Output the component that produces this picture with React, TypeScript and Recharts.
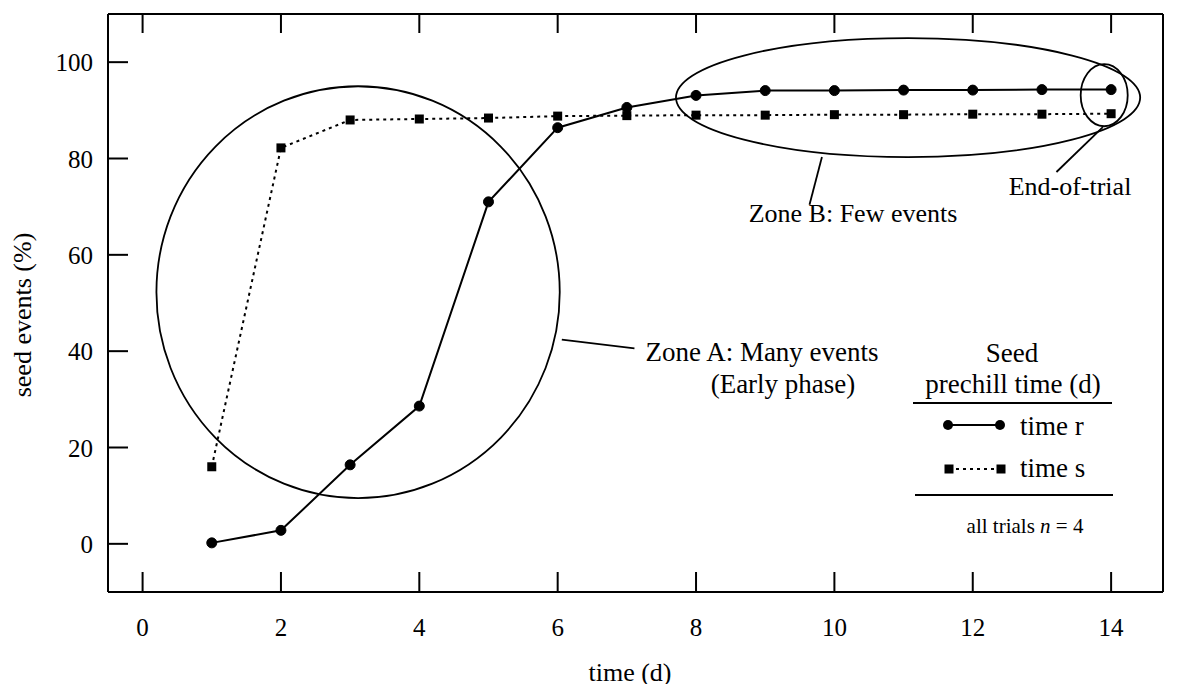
import { Line, LineChart, ReferenceArea, ReferenceLine, XAxis, YAxis } from "recharts";

const days = [1, 2, 3, 4, 5, 6, 7, 8, 9, 10, 11, 12, 13, 14];
const timeR = [0.2, 2.8, 16.4, 28.6, 71, 86.4, 90.6, 93.1, 94.1, 94.1, 94.2, 94.2, 94.3, 94.3];
const timeS = [16, 82.2, 88, 88.2, 88.4, 88.8, 88.9, 89, 89, 89.1, 89.1, 89.2, 89.2, 89.3];
const xTicks = [0, 2, 4, 6, 8, 10, 12, 14];
const yTicks = [0, 20, 40, 60, 80, 100];

// annotation zones, in data units
const zoneA = { x1: 0.2, x2: 6.03, y1: 9.5, y2: 95 };
const zoneB = { x1: 7.71, x2: 14.42, y1: 80.3, y2: 105 };
const endZone = { x1: 13.56, x2: 14.24, y1: 86.7, y2: 99.6 };

const FONT = "'Liberation Serif', 'Times New Roman', serif";
const INK = "#000";

const data = days.map((d, i) => ({ day: d, r: timeR[i], s: timeS[i] }));

const Ellipse = (props: any) => {
  const { x, y, width, height } = props;
  return (
    <ellipse
      cx={x + width / 2}
      cy={y + height / 2}
      rx={width / 2}
      ry={height / 2}
      fill="none"
      stroke={INK}
      strokeWidth={1.8}
    />
  );
};

const SquareDot = (props: any) => {
  const { cx, cy, index } = props;
  return <rect key={`sq-${index}`} x={cx - 4.5} y={cy - 4.5} width={9} height={9} fill={INK} />;
};

const BottomTick = ({ x, y, payload }: any) => (
  <g>
    <line x1={x} x2={x} y1={y} y2={y - 20} stroke={INK} strokeWidth={2} />
    <text x={x} y={y + 44} textAnchor="middle" fontSize={25} fontFamily={FONT} fill={INK}>
      {payload.value}
    </text>
  </g>
);

const TopTick = ({ x, y }: any) => <line x1={x} x2={x} y1={y} y2={y + 19} stroke={INK} strokeWidth={2} />;

const LeftTick = ({ x, y, payload }: any) => (
  <g>
    <line x1={x} x2={x + 20} y1={y} y2={y} stroke={INK} strokeWidth={2} />
    <text x={x - 15} y={y + 9} textAnchor="end" fontSize={25} fontFamily={FONT} fill={INK}>
      {payload.value}
    </text>
  </g>
);

const RightTick = ({ x, y }: any) => <line x1={x} x2={x - 20} y1={y} y2={y} stroke={INK} strokeWidth={2} />;

const txt = { fontFamily: FONT, fill: INK } as const;
const axisLine = { stroke: INK, strokeWidth: 2 };

export default function App() {
  return (
    <div style={{ margin: -8 }}>
      <LineChart width={1177} height={692} data={data} margin={{ top: 13, right: 13, bottom: 99, left: 107 }}>
        <XAxis
          dataKey="day"
          type="number"
          domain={[-0.5, 14.75]}
          ticks={xTicks}
          interval={0}
          height={1}
          tickSize={0}
          tickMargin={0}
          tick={BottomTick}
          axisLine={axisLine}
        />
        <XAxis
          xAxisId="top"
          orientation="top"
          dataKey="day"
          type="number"
          domain={[-0.5, 14.75]}
          ticks={xTicks}
          interval={0}
          height={1}
          tickSize={0}
          tickMargin={0}
          tick={TopTick}
          axisLine={axisLine}
        />
        <YAxis
          type="number"
          domain={[-10, 110]}
          ticks={yTicks}
          interval={0}
          width={1}
          tickSize={0}
          tickMargin={0}
          tick={LeftTick}
          axisLine={axisLine}
        />
        <YAxis
          yAxisId="right"
          orientation="right"
          type="number"
          domain={[-10, 110]}
          ticks={yTicks}
          interval={0}
          width={1}
          tickSize={0}
          tickMargin={0}
          tick={RightTick}
          axisLine={axisLine}
        />

        <ReferenceArea {...zoneA} shape={Ellipse} ifOverflow="visible" />
        <ReferenceArea {...zoneB} shape={Ellipse} ifOverflow="visible" />
        <ReferenceArea {...endZone} shape={Ellipse} ifOverflow="visible" />

        <ReferenceLine segment={[{ x: 6.06, y: 42.4 }, { x: 7.11, y: 40.6 }]} stroke={INK} strokeWidth={1.8} ifOverflow="visible" />
        <ReferenceLine segment={[{ x: 9.82, y: 80.3 }, { x: 9.64, y: 70.4 }]} stroke={INK} strokeWidth={1.8} ifOverflow="visible" />
        <ReferenceLine segment={[{ x: 13.88, y: 86.5 }, { x: 13.21, y: 77.2 }]} stroke={INK} strokeWidth={1.8} ifOverflow="visible" />

        <Line
          dataKey="s"
          type="linear"
          stroke={INK}
          strokeWidth={2}
          strokeDasharray="3 4"
          dot={SquareDot}
          activeDot={false}
          isAnimationActive={false}
        />
        <Line
          dataKey="r"
          type="linear"
          stroke={INK}
          strokeWidth={2}
          dot={{ r: 5, fill: INK, stroke: INK, strokeWidth: 1 }}
          activeDot={false}
          isAnimationActive={false}
        />

        {/* annotation text */}
        <text x={762} y={361} textAnchor="middle" fontSize={27} {...txt}>Zone A: Many events</text>
        <text x={783} y={393} textAnchor="middle" fontSize={27} {...txt}>(Early phase)</text>
        <text x={853} y={222} textAnchor="middle" fontSize={26} {...txt}>Zone B: Few events</text>
        <text x={1070} y={195} textAnchor="middle" fontSize={26} {...txt}>End-of-trial</text>

        {/* legend block */}
        <text x={1012} y={362} textAnchor="middle" fontSize={27} {...txt}>Seed</text>
        <text x={1013} y={393} textAnchor="middle" fontSize={27} {...txt}>prechill time (d)</text>
        <line x1={913} x2={1112} y1={403} y2={403} stroke={INK} strokeWidth={1.8} />
        <line x1={948} x2={1000} y1={425} y2={425} stroke={INK} strokeWidth={2} />
        <circle cx={948} cy={425} r={5} fill={INK} />
        <circle cx={1000} cy={425} r={5} fill={INK} />
        <text x={1020} y={435} fontSize={27} {...txt}>time r</text>
        <line x1={949} x2={1001} y1={469} y2={469} stroke={INK} strokeWidth={2} strokeDasharray="3 4" />
        <rect x={944.5} y={464.5} width={9} height={9} fill={INK} />
        <rect x={996.5} y={464.5} width={9} height={9} fill={INK} />
        <text x={1020} y={477} fontSize={27} {...txt}>time s</text>
        <line x1={915} x2={1113} y1={495} y2={495} stroke={INK} strokeWidth={1.8} />
        <text x={1025} y={533} textAnchor="middle" fontSize={21} {...txt}>
          all trials <tspan fontStyle="italic">n</tspan> = 4
        </text>

        {/* axis titles */}
        <text x={630} y={681} textAnchor="middle" fontSize={26} {...txt}>time (d)</text>
        <text x={31} y={315} textAnchor="middle" fontSize={26} transform="rotate(-90 31 315)" {...txt}>
          seed events (%)
        </text>
      </LineChart>
    </div>
  );
}
